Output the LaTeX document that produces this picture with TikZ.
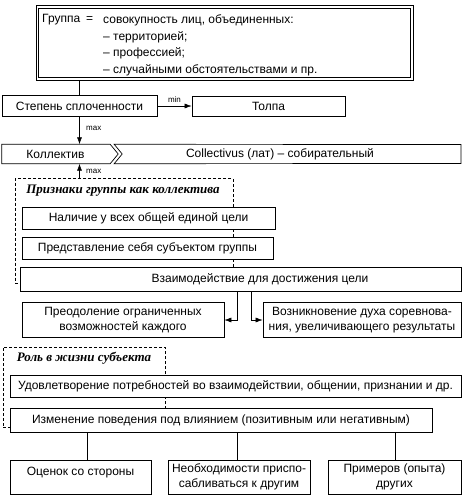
\documentclass[tikz,border=0pt]{standalone}
\usepackage{fontspec}
\setmainfont{Liberation Sans}
\newfontfamily\titlefont{Liberation Serif}
\usetikzlibrary{arrows.meta,calc}
\begin{document}
\begin{tikzpicture}[x=1pt,y=-1pt,
  every node/.style={font=\fontsize{12}{14.5}\selectfont, inner sep=0pt},
  box/.style={draw, line width=0.7pt, fill=white, align=center},
  frame/.style={draw, dashed, line width=0.6pt, dash pattern=on 3pt off 2pt},
  ftitle/.style={font=\titlefont\fontsize{13}{15}\selectfont\bfseries\itshape},
  lbl/.style={font=\fontsize{8}{9}\selectfont},
  conn/.style={line width=0.6pt},
  arr/.style={line width=0.6pt, -{Latex[length=7pt,width=5pt]}}]
\useasboundingbox (0,0) rectangle (469,498);
% top box
\node[draw, line width=0.5pt, minimum width=377pt, minimum height=75pt] (grp) at (224.5,42.5) {};
\draw[line width=1.3pt] ([shift={(3pt,-4pt)}]grp.north west) rectangle ([shift={(-3pt,3pt)}]grp.south east);
\node[anchor=west] (g0) at (42,20) {Группа\enspace =};
\node[anchor=west] (g1) at (103,20) {совокупность лиц, объединенных:};
\node[anchor=west] (g2) at (103,37) {– территорией;};
\node[anchor=west] (g3) at (103,53) {– профессией;};
\node[anchor=west] (g4) at (103,70) {– случайными обстоятельствами и пр.};
% row 2
\node[box, minimum width=155pt, minimum height=21pt] (st) at (79.5,106) {Степень сплоченности};
\node[box, minimum width=153pt, minimum height=20pt] (tol) at (268.5,106) {Толпа};
\draw[conn] (grp.south -| st.north) -- (st.north);
\draw[arr] (st.east) -- node[lbl, above=3pt] (lmin) {min} (tol.west);
% Kollektiv row
\node[minimum width=107pt, minimum height=19pt] (kol) at (55.5,154) {Коллектив};
\draw[line width=0.7pt] (kol.north west) -- ([xshift=1pt]kol.north east) -- ([xshift=9pt]kol.east) -- ([xshift=1pt]kol.south east) -- (kol.south west) -- cycle;
\node (col) at (280,154) {Collectivus (лат) – собирательный};
\draw[line width=0.7pt] ([xshift=5pt]kol.north east) -- (461,144.5) -- (461,163.5) -- ([xshift=5pt]kol.south east) -- ([xshift=13pt]kol.east) -- cycle;
\draw[arr] (st.south) -- (st.south |- kol.north);
\node[lbl, anchor=west] (lmax1) at (86,128) {max};
% frame 1
\node[frame, minimum width=218pt, minimum height=105pt] (fr1) at (124,231) {};
\draw[arr] (st.south |- fr1.north) -- (st.south |- kol.south);
\node[lbl, anchor=west] (lmax2) at (86,171) {max};
\node[ftitle] (t1) at (123,191) {Признаки группы как коллектива};
\node[box, minimum width=253pt, minimum height=22pt] (nal) at (148.5,218) {Наличие у всех общей единой цели};
\node[box, minimum width=251pt, minimum height=22pt] (pred) at (147.5,248) {Представление себя субъектом группы};
\node[box, minimum width=441pt, minimum height=24pt] (vz) at (240.5,279) {};
\node (vzt) at (260,279) {Взаимодействие для достижения цели};
\node[box, minimum width=202pt, minimum height=35pt] (preo) at (123,320) {Преодоление ограниченных\\возможностей каждого};
\node[box, minimum width=198pt, minimum height=35pt] (vozn) at (362,320) {Возникновение духа соревнова-\\ния, увеличивающего результаты};
\coordinate (c1) at (237,291);
\coordinate (c2) at (251,291);
\draw[arr] (c1) |- (preo.east);
\draw[arr] (c2) |- (vozn.west);
% frame 2
\node[frame, minimum width=162pt, minimum height=80pt] (fr2) at (84,387) {};
\node[ftitle] (t2) at (84,358) {Роль в жизни субъекта};
\node[box, minimum width=451pt, minimum height=22pt] (ud) at (235.5,386) {Удовлетворение потребностей во взаимодействии, общении, признании и др.};
\node[box, minimum width=422pt, minimum height=24pt] (izm) at (221,420) {Изменение поведения под влиянием (позитивным или негативным)};
\node[box, minimum width=141pt, minimum height=34pt, text depth=12pt] (ots) at (80.5,477) {Оценок со стороны};
\node[box, minimum width=142pt, minimum height=34pt] (neob) at (239,477) {Необходимости приспо-\\сабливаться к другим};
\node[box, minimum width=133pt, minimum height=34pt] (prim) at (394.5,477) {Примеров (опыта)\\других};
\draw[conn] ([xshift=7pt]ots.north |- izm.south) -- ([xshift=7pt]ots.north);
\draw[conn] ([xshift=-2pt]neob.north |- izm.south) -- ([xshift=-2pt]neob.north);
\draw[conn] ([xshift=1pt]prim.north |- izm.south) -- ([xshift=1pt]prim.north);
\end{tikzpicture}
\end{document}
